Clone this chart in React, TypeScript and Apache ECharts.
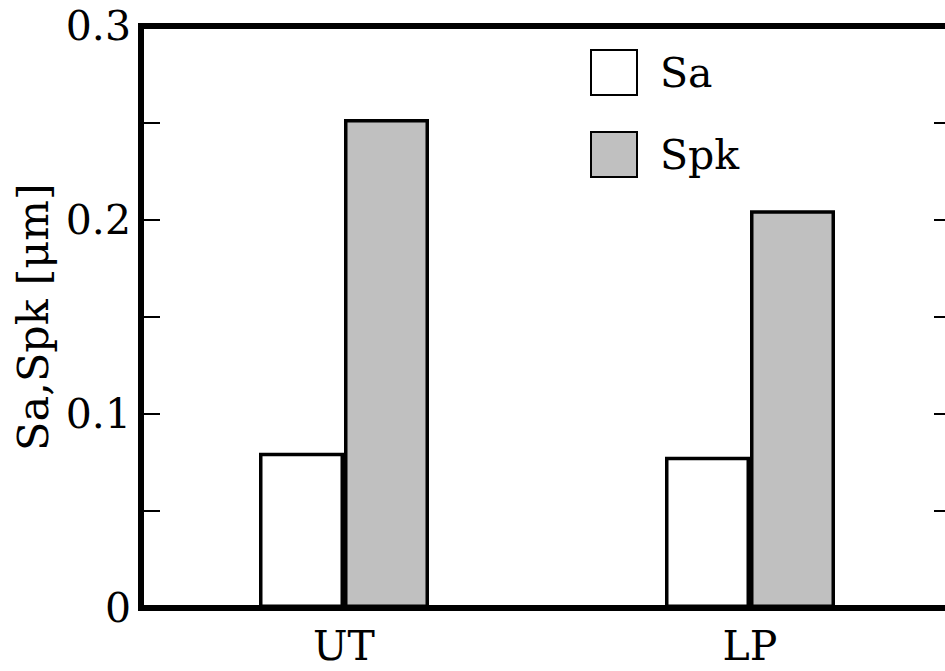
import React, { useEffect, useRef } from "react";
import * as echarts from "echarts";

const categories = ["UT", "LP"];
const saValues = [0.08, 0.078];
const spkValues = [0.252, 0.205];
const seriesNames = ["Sa", "Spk"];
const yTicks = { min: 0, max: 0.3, step: 0.05 };

const FONT = "DejaVu Serif";

export default function App() {
  const ref = useRef<HTMLDivElement>(null);
  useEffect(() => {
    if (!ref.current) return;
    const chart = echarts.init(ref.current, undefined, { renderer: "svg" });
    const labelFmt = (v: number) => {
      const k = Math.round(v * 100);
      if (k % 10 !== 0) return "";
      if (k === 0) return "0";
      return (k / 100).toFixed(1);
    };
    chart.setOption({
      animation: false,
      backgroundColor: "#ffffff",
      textStyle: { fontFamily: FONT },
      grid: {
        left: 141,
        top: 26,
        width: 812,
        height: 582,
        show: true,
        borderColor: "#000",
        borderWidth: 6,
        backgroundColor: "transparent",
      },
      legend: {
        orient: "vertical",
        left: 590,
        top: 49,
        padding: 0,
        itemWidth: 46,
        itemHeight: 45,
        itemGap: 35,
        icon: "rect",
        textStyle: { fontFamily: FONT, fontSize: 41, color: "#000", padding: [0, 0, 0, 18] },
        data: seriesNames,
      },
      xAxis: {
        type: "category",
        data: categories,
        axisLine: { show: true, lineStyle: { color: "#000", width: 6 } },
        axisTick: { show: false },
        axisLabel: { fontFamily: FONT, fontSize: 41, color: "#000", margin: 17 },
      },
      yAxis: [
        {
          type: "value",
          min: yTicks.min,
          max: yTicks.max,
          interval: yTicks.step,
          position: "left",
          name: "Sa,Spk [μm]",
          nameLocation: "middle",
          nameRotate: 90,
          nameGap: 77,
          nameTextStyle: { fontFamily: FONT, fontSize: 43, color: "#000" },
          axisLine: { show: true, lineStyle: { color: "#000", width: 6 } },
          axisTick: { show: true, inside: true, length: 19, lineStyle: { color: "#000", width: 2 } },
          axisLabel: { fontFamily: FONT, fontSize: 41, color: "#000", margin: 10, formatter: labelFmt },
          splitLine: { show: false },
        },
        {
          type: "value",
          min: yTicks.min,
          max: yTicks.max,
          interval: yTicks.step,
          position: "right",
          axisLine: { show: true, lineStyle: { color: "#000", width: 6 } },
          axisTick: { show: true, inside: true, length: 19, lineStyle: { color: "#000", width: 2 } },
          axisLabel: { show: false },
          splitLine: { show: false },
        },
      ],
      series: [
        {
          name: seriesNames[0],
          type: "bar",
          data: saValues,
          barWidth: 85,
          barGap: "0%",
          itemStyle: { color: "#ffffff", borderColor: "#000", borderWidth: 3.5 },
        },
        {
          name: seriesNames[1],
          type: "bar",
          data: spkValues,
          barWidth: 85,
          barGap: "0%",
          itemStyle: { color: "#c0c0c0", borderColor: "#000", borderWidth: 3.5 },
        },
      ],
    });
    return () => chart.dispose();
  }, []);
  return (
    <div style={{ position: "absolute", left: 0, top: 0, width: 945, height: 671, overflow: "hidden" }}>
      <div ref={ref} style={{ width: 990, height: 671 }} />
    </div>
  );
}
